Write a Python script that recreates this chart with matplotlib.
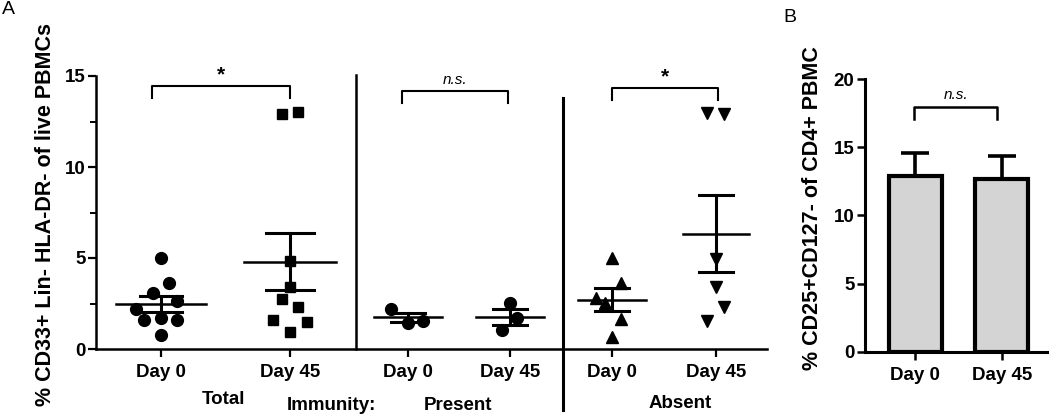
import numpy as np
import matplotlib
matplotlib.use("Agg")
import matplotlib.pyplot as plt
import matplotlib.transforms as mtransforms

plt.rcParams['font.family'] = ['Liberation Sans', 'DejaVu Sans']

# ---- panel A data (% CD33+ Lin- HLA-DR- of live PBMCs) ----
total_day0 = [5.0, 3.6, 3.05, 2.65, 2.2, 1.6, 1.7, 1.6, 0.75]
total_day45 = [12.9, 13.0, 4.85, 3.42, 2.73, 2.32, 1.59, 1.5, 0.95]
present_day0 = [2.2, 1.45, 1.55]
present_day45 = [2.55, 1.7, 1.05]
absent_day0 = [5.0, 3.65, 2.8, 2.55, 1.65, 0.65]
absent_day45 = [12.95, 12.9, 4.95, 3.4, 2.3, 1.55]
day_labels = ['Day 0', 'Day 45']
group_labels = ['Total', 'Present', 'Absent']
sig_labels = ['*', 'n.s.', '*']

# ---- panel B data (% CD25+CD127- of CD4+ PBMC) ----
treg_mean = [12.85, 12.65]
treg_sem = [1.7, 1.7]

# layout (pixel-like x units)
W, H = 1050, 418
xpos = [161, 290, 408, 510, 612, 716]
jitter = [
    [0, 8, -8, 16, -25, -17, 0, 16, 0],
    [-8, 8, 0, 0, -8, 8, -17, 17, 0],
    [-17, 0, 15],
    [0, 7, -8],
    [0, 9, -16, -7, 9, 0],
    [-9, 8, 0, 0, 8, -9],
]
markers = ['o', 's', 'o', 'o', '^', 'v']
msizes = [8.5, 7.5, 8.5, 8.5, 8, 8]
mean_half = [45, 46, 34, 34, 34, 33]
cap_half = [21, 24, 17, 17, 17, 17]

fig = plt.figure(figsize=(W / 100, H / 100), dpi=100)

axA = fig.add_axes([96 / W, 1 - 349 / H, (767 - 96) / W, (349 - 76) / H])
groups = [total_day0, total_day45, present_day0, present_day45, absent_day0, absent_day45]
for i, vals in enumerate(groups):
    vals = np.array(vals)
    x = xpos[i] + np.array(jitter[i])
    axA.plot(x, vals, linestyle='none', marker=markers[i], ms=msizes[i],
             color='black', zorder=3)
    m = vals.mean()
    sem = vals.std(ddof=1) / np.sqrt(len(vals))
    axA.plot([xpos[i] - mean_half[i], xpos[i] + mean_half[i]], [m, m],
             color='black', lw=1.8, zorder=4)
    axA.plot([xpos[i], xpos[i]], [m - sem, m + sem], color='black', lw=2.2, zorder=4)
    for yy in (m - sem, m + sem):
        axA.plot([xpos[i] - cap_half[i], xpos[i] + cap_half[i]], [yy, yy],
                 color='black', lw=2.2, zorder=4)

axA.set_xlim(96, 767)
axA.set_ylim(0, 15)
axA.set_yticks([0, 5, 10, 15])
axA.set_yticks([2.5, 7.5, 12.5], minor=True)
axA.set_xticks(xpos)
axA.set_xticklabels(day_labels * 3, fontsize=13.5, fontweight='bold')
for lab in axA.get_yticklabels():
    lab.set_fontsize(13.5)
    lab.set_fontweight('bold')
axA.tick_params(axis='both', which='major', length=6, width=1.6, pad=1.5)
axA.tick_params(axis='y', which='minor', length=4, width=1.4)
axA.tick_params(axis='x', pad=5)
for s in ['top', 'right']:
    axA.spines[s].set_visible(False)
for s in ['left', 'bottom']:
    axA.spines[s].set_linewidth(1.8)

trA = mtransforms.blended_transform_factory(axA.transData, axA.transAxes)
# dividers between groups
axA.plot([356, 356], [1.004, 0], color='black', lw=1.8, transform=trA, clip_on=False)
axA.plot([563, 563], [0.919, -0.223], color='black', lw=2.2, transform=trA, clip_on=False)

# significance brackets
brackets = [(152, 290, 0.963, 0.919), (402, 508, 0.946, 0.901), (612, 718, 0.956, 0.912)]
for (x0, x1, ytop, yleg), lab in zip(brackets, sig_labels):
    axA.plot([x0, x0, x1, x1], [yleg, ytop, ytop, yleg], color='black', lw=1.5,
             transform=trA, clip_on=False)
    if lab == '*':
        axA.text((x0 + x1) / 2, ytop + 0.005, lab, transform=trA, ha='center', va='bottom',
                 fontsize=15, fontweight='bold')
    else:
        axA.text((x0 + x1) / 2, ytop + 0.015, lab, transform=trA, ha='center', va='bottom',
                 fontsize=11, fontstyle='italic')

fig.text(223 / W, 1 - 399 / H, group_labels[0], ha='center', va='center',
         fontsize=13.5, fontweight='bold')
fig.text(331 / W, 1 - 405 / H, 'Immunity:', ha='center', va='center',
         fontsize=13.5, fontweight='bold')
fig.text(458 / W, 1 - 405 / H, group_labels[1], ha='center', va='center',
         fontsize=13.5, fontweight='bold')
fig.text(680 / W, 1 - 403 / H, group_labels[2], ha='center', va='center',
         fontsize=13.5, fontweight='bold')
fig.text(46 / W, 1 - 214 / H, '% CD33+ Lin- HLA-DR- of live PBMCs', rotation=90,
         ha='center', va='center', fontsize=15.5, fontweight='bold')
fig.text(2 / W, 1 - 10 / H, 'A', ha='left', va='center', fontsize=14)

# ---- panel B ----
axB = fig.add_axes([865 / W, 1 - 351.7 / H, (1047 - 865) / W, (351.7 - 79) / H])
bx = [915, 1001.7]
axB.errorbar(bx, treg_mean, yerr=[[0, 0], treg_sem], fmt='none', ecolor='black',
             elinewidth=2.6, capsize=10, capthick=2.6, zorder=2)
axB.bar(bx, treg_mean, width=53, color='#d4d4d4', edgecolor='black', linewidth=3, zorder=3)
axB.set_xlim(865, 1047)
axB.set_ylim(0, 20)
axB.set_yticks([0, 5, 10, 15, 20])
axB.set_xticks(bx)
axB.set_xticklabels(day_labels, fontsize=13.5, fontweight='bold')
for lab in axB.get_yticklabels():
    lab.set_fontsize(13.5)
    lab.set_fontweight('bold')
axB.tick_params(axis='both', length=6, width=1.8, pad=1.5)
axB.tick_params(axis='x', pad=5)
for s in ['top', 'right']:
    axB.spines[s].set_visible(False)
for s in ['left', 'bottom']:
    axB.spines[s].set_linewidth(2.2)
trB = mtransforms.blended_transform_factory(axB.transData, axB.transAxes)
axB.plot([914, 914, 997, 997], [0.852, 0.898, 0.898, 0.852], color='black', lw=1.8,
         transform=trB, clip_on=False)
axB.text(956, 0.915, 'n.s.', transform=trB, ha='center', va='bottom',
         fontsize=11, fontstyle='italic')
fig.text(813 / W, 1 - 208 / H, '% CD25+CD127- of CD4+ PBMC', rotation=90,
         ha='center', va='center', fontsize=15.5, fontweight='bold')
fig.text(783 / W, 1 - 18 / H, 'B', ha='left', va='center', fontsize=14)

fig.savefig('out.png', dpi=100)
